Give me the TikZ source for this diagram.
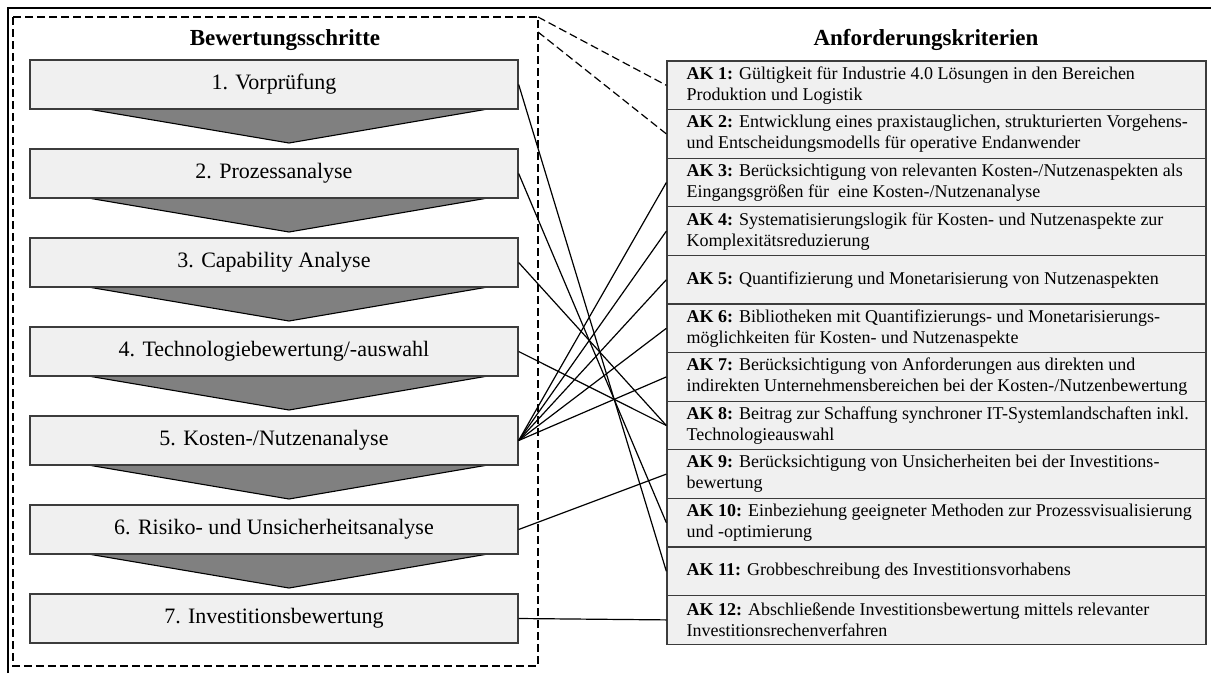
\documentclass[tikz,border=0pt]{standalone}
\usepackage{fontspec}
\setmainfont{Liberation Serif}
\definecolor{boxfill}{RGB}{240,240,240}
\definecolor{boxline}{RGB}{60,60,60}
\definecolor{chevfill}{RGB}{128,128,128}
\begin{document}
\begin{tikzpicture}[x=1pt,y=-1pt,
  stepbox/.style={draw=boxline, fill=boxfill, line width=1.3pt, minimum width=488pt,
    minimum height=49pt, inner sep=0pt, font=\fontsize{22}{26}\selectfont},
  chev/.style={fill=chevfill, draw=black, line width=1.1pt, line join=miter},
  akbox/.style={draw=boxline, fill=boxfill, line width=1.3pt, minimum width=539pt,
    minimum height=48.6pt, inner sep=0pt},
  aktext/.style={anchor=west, align=left, inner sep=0pt, xshift=20pt,
    font=\fontsize{18}{21}\selectfont},
  link/.style={line width=1.2pt},
  dlink/.style={line width=1.2pt, dash pattern=on 8pt off 4pt},
  title/.style={font=\fontsize{23}{27}\selectfont\bfseries}]

\useasboundingbox (0,0) rectangle (1211,673);

% outer frame (top and left edges)
\draw[line width=2.6pt] (8,673) -- (8,8) -- (1211,8);

% dashed frame around the evaluation steps
\draw[dlink] (13,17) rectangle (538,666);
\coordinate (dc1) at (538,17);
\coordinate (dc2) at (538,32);

% titles
\node[title] (h1) at (285,40) {Bewertungsschritte};
\node[title] (h2) at (926,40) {Anforderungskriterien};

% chevrons between the steps
\foreach \i in {0,...,5}{
  \path[chev] (88,{109+89*\i}) -- (289,{143+89*\i}) -- (488,{109+89*\i}) -- cycle;
}

% evaluation steps
\node[stepbox] (s1) at (274,84.5)  {1. Vorprüfung};
\node[stepbox] (s2) at (274,173.5) {2. Prozessanalyse};
\node[stepbox] (s3) at (274,262.5) {3. Capability Analyse};
\node[stepbox] (s4) at (274,351.5) {4. Technologiebewertung/-auswahl};
\node[stepbox] (s5) at (274,440.5) {5. Kosten-/Nutzenanalyse};
\node[stepbox] (s6) at (274,529.5) {6. Risiko- und Unsicherheitsanalyse};
\node[stepbox] (s7) at (274,618.5) {7. Investitionsbewertung};

% requirement criteria
\node[akbox] (a1)  at (936.5,85.3)  {};
\node[akbox] (a2)  at (936.5,133.9) {};
\node[akbox] (a3)  at (936.5,182.5) {};
\node[akbox] (a4)  at (936.5,231.1) {};
\node[akbox] (a5)  at (936.5,279.7) {};
\node[akbox] (a6)  at (936.5,328.3) {};
\node[akbox] (a7)  at (936.5,376.9) {};
\node[akbox] (a8)  at (936.5,425.5) {};
\node[akbox] (a9)  at (936.5,474.1) {};
\node[akbox] (a10) at (936.5,522.7) {};
\node[akbox] (a11) at (936.5,571.3) {};
\node[akbox] (a12) at (936.5,619.9) {};

\node[aktext] (t1) at (a1.west) {\textbf{AK 1:} Gültigkeit für Industrie 4.0 Lösungen in den Bereichen\\Produktion und Logistik};
\node[aktext] (t2) at (a2.west) {\textbf{AK 2:} Entwicklung eines praxistauglichen, strukturierten Vorgehens-\\und Entscheidungsmodells für operative Endanwender};
\node[aktext] (t3) at (a3.west) {\textbf{AK 3:} Berücksichtigung von relevanten Kosten-/Nutzenaspekten als\\Eingangsgrößen für\ \ eine Kosten-/Nutzenanalyse};
\node[aktext] (t4) at (a4.west) {\textbf{AK 4:} Systematisierungslogik für Kosten- und Nutzenaspekte zur\\Komplexitätsreduzierung};
\node[aktext] (t5) at (a5.west) {\textbf{AK 5:} Quantifizierung und Monetarisierung von Nutzenaspekten};
\node[aktext] (t6) at (a6.west) {\textbf{AK 6:} Bibliotheken mit Quantifizierungs- und Monetarisierungs-\\möglichkeiten für Kosten- und Nutzenaspekte};
\node[aktext] (t7) at (a7.west) {\textbf{AK 7:} Berücksichtigung von Anforderungen aus direkten und\\indirekten Unternehmensbereichen bei der Kosten-/Nutzenbewertung};
\node[aktext] (t8) at (a8.west) {\textbf{AK 8:} Beitrag zur Schaffung synchroner IT-Systemlandschaften inkl.\\Technologieauswahl};
\node[aktext] (t9) at (a9.west) {\textbf{AK 9:} Berücksichtigung von Unsicherheiten bei der Investitions-\\bewertung};
\node[aktext] (t10) at (a10.west) {\textbf{AK 10:} Einbeziehung geeigneter Methoden zur Prozessvisualisierung\\und -optimierung};
\node[aktext] (t11) at (a11.west) {\textbf{AK 11:} Grobbeschreibung des Investitionsvorhabens};
\node[aktext] (t12) at (a12.west) {\textbf{AK 12:} Abschließende Investitionsbewertung mittels relevanter\\Investitionsrechenverfahren};

% dashed links from the frame to AK 1 and AK 2
\draw[dlink] (dc1) -- (a1.west);
\draw[dlink] (dc2) -- (a2.west);

% links from steps to criteria
\draw[link] (s1.east) -- (a11.west);
\draw[link] (s2.east) -- (a10.west);
\draw[link] (s3.east) -- (a8.west);
\draw[link] (s4.east) -- (a8.west);
\foreach \k in {3,...,7}{\draw[link] (s5.east) -- (a\k.west);}
\draw[link] (s6.east) -- (a9.west);
\draw[link] (s7.east) -- (a12.west);
\end{tikzpicture}
\end{document}
